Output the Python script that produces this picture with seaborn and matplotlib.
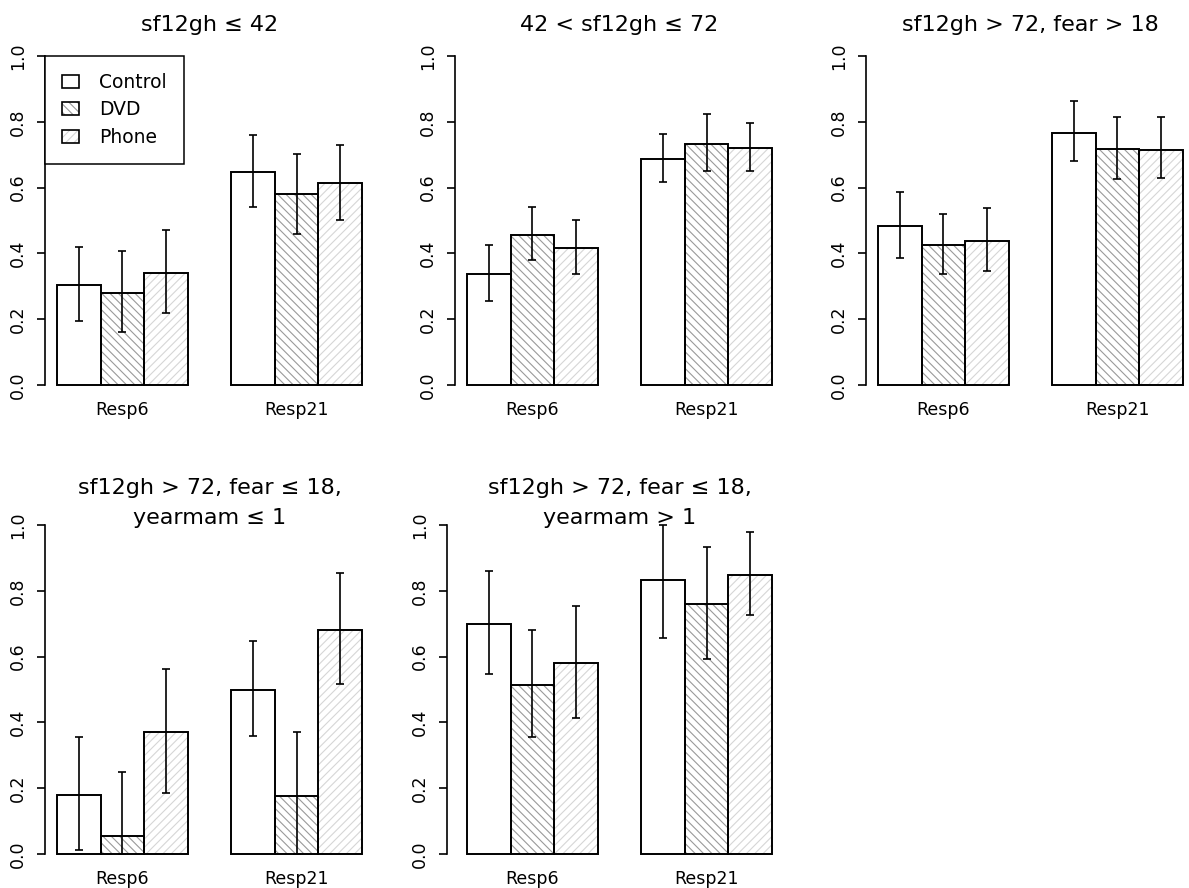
# Grouped bar charts with confidence intervals, five subgroups in a 2x3 grid.
import numpy as np
import pandas as pd
import matplotlib
matplotlib.use("Agg")
import matplotlib.pyplot as plt
import matplotlib.patches as mpatches
from matplotlib.legend_handler import HandlerTuple
import seaborn as sns

plt.rcParams["font.family"] = ["DejaVu Sans"]
plt.rcParams["hatch.linewidth"] = 0.8

# -----------------------------
# Data
# -----------------------------
groups = ["Control", "DVD", "Phone"]
responses = ["Resp6", "Resp21"]

panel_titles = [
    "sf12gh \u2264 42",
    "42 < sf12gh \u2264 72",
    "sf12gh > 72, fear > 18",
    "sf12gh > 72, fear \u2264 18,\nyearmam \u2264 1",
    "sf12gh > 72, fear \u2264 18,\nyearmam > 1",
]

# one row per panel, one value per group (Control, DVD, Phone)
mean_resp6 = [[0.304, 0.281, 0.341], [0.338, 0.457, 0.415], [0.482, 0.426, 0.439],
              [0.179, 0.054, 0.371], [0.700, 0.515, 0.582]]
low_resp6 = [[0.196, 0.160, 0.218], [0.256, 0.380, 0.338], [0.385, 0.337, 0.345],
             [0.013, 0.000, 0.186], [0.546, 0.357, 0.414]]
high_resp6 = [[0.418, 0.408, 0.471], [0.427, 0.542, 0.502], [0.586, 0.521, 0.538],
              [0.355, 0.248, 0.562], [0.859, 0.680, 0.754]]

mean_resp21 = [[0.648, 0.580, 0.613], [0.687, 0.733, 0.720], [0.767, 0.716, 0.715],
               [0.500, 0.175, 0.681], [0.834, 0.759, 0.849]]
low_resp21 = [[0.542, 0.460, 0.503], [0.618, 0.651, 0.651], [0.681, 0.627, 0.628],
              [0.360, 0.000, 0.517], [0.656, 0.593, 0.728]]
high_resp21 = [[0.761, 0.703, 0.730], [0.764, 0.823, 0.796], [0.864, 0.815, 0.813],
               [0.649, 0.371, 0.853], [1.000, 0.932, 0.978]]

# hatch style per group
hatches = ["", "\\\\\\\\", "////"]
hatch_colors = ["white", "#9a9a9a", "#d6d6d6"]

# -----------------------------
# Layout (figure fractions)
# -----------------------------
fig = plt.figure(figsize=(11.89, 8.88), dpi=100)
w, h = 0.2767, 0.4002
positions = [
    (0.03785, 0.5516), (0.3827, 0.5516), (0.7283, 0.5516),
    (0.03785, 0.0234), (0.3827, 0.0234),
]

for i, title in enumerate(panel_titles):
    ax = fig.add_axes([positions[i][0], positions[i][1], w, h])

    # Build a small table for this panel
    rows = []
    for gi, g in enumerate(groups):
        rows.append({"response": "Resp6", "group": g, "prop": mean_resp6[i][gi]})
        rows.append({"response": "Resp21", "group": g, "prop": mean_resp21[i][gi]})
    df = pd.DataFrame(rows)

    # Filled bars carrying the grey hatching
    sns.barplot(data=df, x="response", y="prop", hue="group",
                order=responses, hue_order=groups,
                palette={g: "white" for g in groups}, width=0.75,
                errorbar=None, linewidth=0, legend=False, ax=ax)
    for cont, hp, hc in zip(ax.containers, hatches, hatch_colors):
        for bar in cont:
            bar.set_hatch(hp)
            bar.set_edgecolor(hc)

    # Black outlines on top
    sns.barplot(data=df, x="response", y="prop", hue="group",
                order=responses, hue_order=groups,
                palette={g: "black" for g in groups}, fill=False, width=0.75,
                errorbar=None, linewidth=1.4, legend=False, ax=ax)

    # Error bars at the centre of each bar
    for gi in range(len(groups)):
        xs = sorted(b.get_x() + b.get_width() / 2 for b in ax.containers[gi])
        means = np.array([mean_resp6[i][gi], mean_resp21[i][gi]])
        lows = np.array([low_resp6[i][gi], low_resp21[i][gi]])
        highs = np.array([high_resp6[i][gi], high_resp21[i][gi]])
        ax.errorbar(xs, means, yerr=[means - lows, highs - means], fmt="none",
                    ecolor="black", elinewidth=1.2, capsize=3, capthick=1.2,
                    zorder=5)

    # Axes styling in the look of base R
    for side in ["top", "right", "bottom"]:
        ax.spines[side].set_visible(False)
    if i == 4:
        ax.spines["left"].set_position(("outward", 5.8))
    ax.spines["left"].set_bounds(0, 1)
    ax.spines["left"].set_linewidth(1.2)

    ax.set_xlim(-0.445, 1.445)
    ax.set_ylim(-0.04, 1.04)
    ax.set_xlabel("")
    ax.set_ylabel("")
    ticks = [0.0, 0.2, 0.4, 0.6, 0.8, 1.0]
    ax.set_yticks(ticks)
    ax.set_yticklabels([f"{t:.1f}" for t in ticks], rotation=90, va="center")
    ax.tick_params(axis="y", length=5.8, width=1.2, labelsize=12.5, pad=7)
    ax.tick_params(axis="x", length=0, labelsize=12.5, pad=2)

    if "\n" in title:
        ax.set_title(title, fontsize=16, y=0.954, va="bottom", pad=0,
                     linespacing=1.65)
    else:
        ax.set_title(title, fontsize=16, y=1.022, va="bottom", pad=0)

    # Legend only on the first panel
    if i == 0:
        handles = []
        for hp, hc in zip(hatches, hatch_colors):
            fill_patch = mpatches.Patch(facecolor="white", edgecolor=hc,
                                        hatch=hp, linewidth=0)
            edge_patch = mpatches.Patch(facecolor="none", edgecolor="black",
                                        linewidth=1.2)
            handles.append((fill_patch, edge_patch))
        leg = ax.legend(handles, groups, loc="upper left",
                        bbox_to_anchor=(0, 1.0 / 1.08 + 0.04 / 1.08),
                        borderaxespad=0, fontsize=13.5, fancybox=False,
                        framealpha=1, edgecolor="black", borderpad=0.9,
                        handlelength=0.9, handleheight=0.67,
                        handletextpad=1.1, labelspacing=0.45,
                        handler_map={tuple: HandlerTuple(ndivide=1)})
        leg.get_frame().set_linewidth(1.1)

fig.savefig("out.png", dpi=100)
plt.close(fig)
